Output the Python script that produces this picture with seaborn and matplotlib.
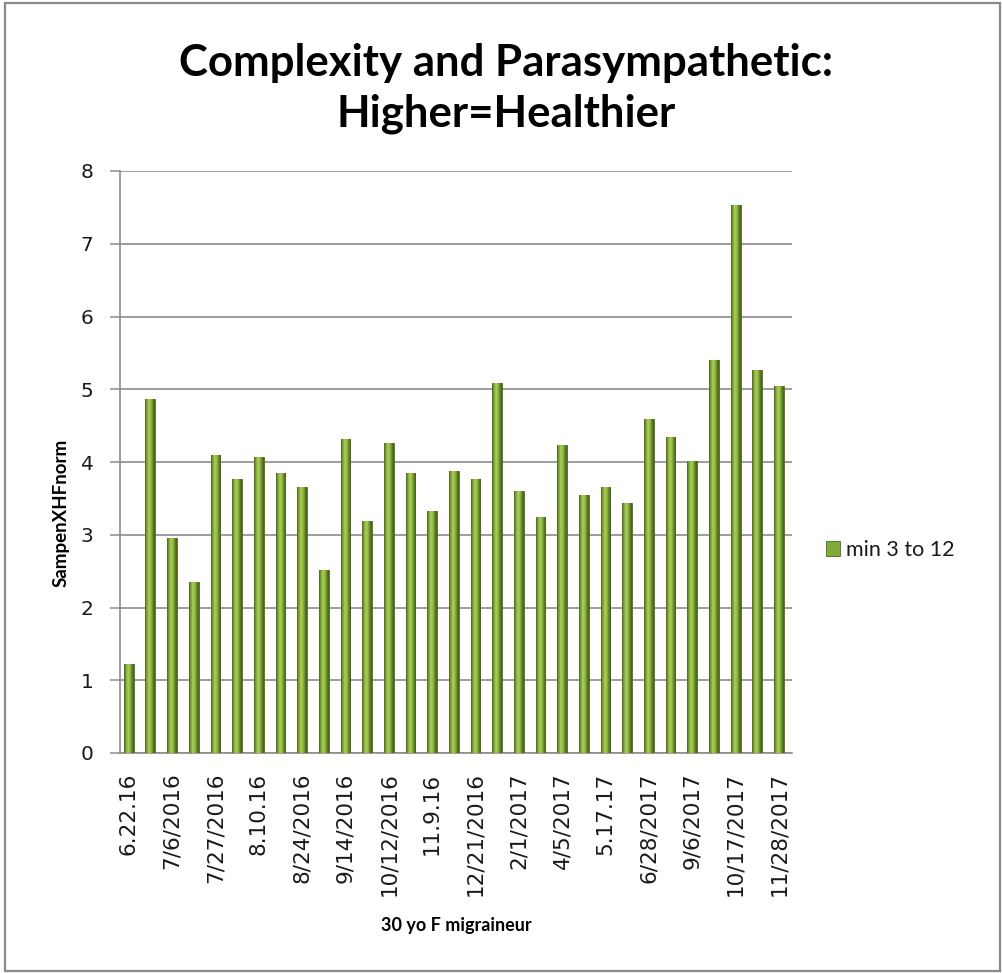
import numpy as np
import pandas as pd
import matplotlib
matplotlib.use("Agg")
import matplotlib.pyplot as plt
from matplotlib.colors import LinearSegmentedColormap
from matplotlib.patches import Rectangle
import seaborn as sns

# SampenXHFnorm per recording session (min 3 to 12)
values = [1.22, 4.87, 2.96, 2.35, 4.10, 3.77, 4.07, 3.85, 3.66, 2.52,
          4.32, 3.19, 4.26, 3.85, 3.33, 3.88, 3.77, 5.08, 3.60, 3.24,
          4.24, 3.55, 3.66, 3.44, 4.59, 4.35, 4.01, 5.40, 7.53, 5.26, 5.04]
# dates printed under every second session
tick_labels = ["6.22.16", "7/6/2016", "7/27/2016", "8.10.16", "8/24/2016",
               "9/14/2016", "10/12/2016", "11.9.16", "12/21/2016", "2/1/2017",
               "4/5/2017", "5.17.17", "6/28/2017", "9/6/2017", "10/17/2017",
               "11/28/2017"]
series_name = "min 3 to 12"
yticks = [0, 1, 2, 3, 4, 5, 6, 7, 8]

df = pd.DataFrame({"session": np.arange(len(values)), "value": values,
                   "series": series_name})

sns.set_theme(style="white")
plt.rcParams["font.family"] = ["DejaVu Sans"]

fig = plt.figure(figsize=(10.02, 9.73), dpi=100)
ax = fig.add_axes([120 / 1002, 1 - 753 / 973, 672 / 1002, 582 / 973])

base = "#82aa3a"
sns.barplot(data=df, x="session", y="value", hue="series", palette=[base],
            width=0.45, ax=ax, saturation=1, edgecolor="#4e6a1b",
            linewidth=0.6, zorder=3, legend=True)

# cylinder-like shading across each bar
shade = LinearSegmentedColormap.from_list(
    "shade", ["#4a6519", "#80a638", "#a9cf5a", "#93bb46", "#62822a", "#465f17"])
grad = np.linspace(0, 1, 64).reshape(1, -1)
for p in list(ax.patches):
    x0, y0 = p.get_x(), p.get_y()
    w, h = p.get_width(), p.get_height()
    if h <= 0 or w <= 0:
        continue
    im = ax.imshow(grad, cmap=shade, aspect="auto",
                   extent=(x0, x0 + w, y0, y0 + h), zorder=4,
                   interpolation="bilinear")
    im.set_clip_path(p)

ax.set_xlim(-0.4, len(values) - 0.4)
ax.set_ylim(0, 8)
ax.set_yticks(yticks)
ax.set_yticklabels([str(t) for t in yticks], fontsize=14.5, color="#1a1a1a")
ax.set_xticks(np.arange(0, len(values), 2))
ax.set_xticklabels(tick_labels, rotation=90, fontsize=15.5, color="#1a1a1a",
                   va="top", ha="center")
ax.tick_params(axis="x", length=0, pad=14)
ax.tick_params(axis="y", length=7, width=1.1, color="#8c8c8c", left=True,
               direction="out", pad=12)

ax.yaxis.grid(True, color="#8c8c8c", linewidth=1.2, zorder=0)
ax.xaxis.grid(False)
for side in ["top", "right"]:
    ax.spines[side].set_visible(False)
for side in ["left", "bottom"]:
    ax.spines[side].set_color("#8c8c8c")
    ax.spines[side].set_linewidth(1.2)

ax.set_xlabel("30 yo F migraineur", fontsize=13, fontweight="bold",
              family=["Lato", "DejaVu Sans"], color="black")
ax.xaxis.set_label_coords(0.5, -0.296)
ax.xaxis.label.set_va("center")
ax.set_ylabel("SampenXHFnorm", fontsize=13.5, fontweight="bold",
              family=["Lato", "DejaVu Sans"], color="black")
ax.yaxis.set_label_coords(-0.088, 0.412)
ax.yaxis.label.set_va("center")

fig.text(0.505, 1 - 63 / 973, "Complexity and Parasympathetic:",
         ha="center", va="center", fontsize=31.5, fontweight="bold",
         family=["Lato", "DejaVu Sans"], color="black")
fig.text(0.505, 1 - 114 / 973, "Higher=Healthier",
         ha="center", va="center", fontsize=31.5, fontweight="bold",
         family=["Lato", "DejaVu Sans"], color="black")

leg = ax.legend(loc="center left", bbox_to_anchor=(1.0505, 0.349), frameon=False,
                handlelength=0.65, handleheight=0.65, handletextpad=0.3,
                borderaxespad=0, borderpad=0,
                prop={"family": ["Lato", "DejaVu Sans"], "size": 15.5})
for t in leg.get_texts():
    t.set_color("#1a1a1a")

# outer chart border
fig.add_artist(Rectangle((5 / 1002, 2 / 973), 995 / 1002, 968 / 973,
                         transform=fig.transFigure, fill=False,
                         edgecolor="#8a8a8a", linewidth=1.6))

fig.savefig("out.png", dpi=100)
